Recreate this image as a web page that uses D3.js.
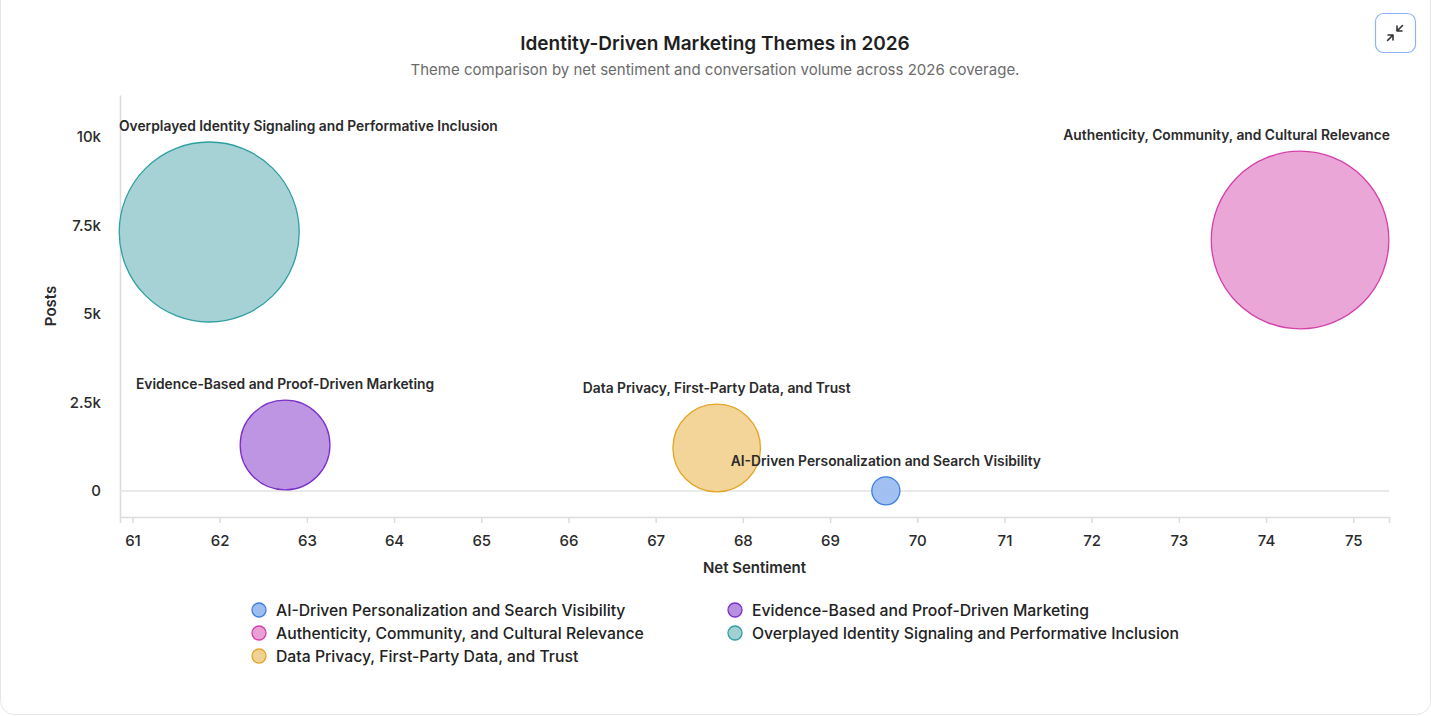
<!DOCTYPE html>
<html>
<head>
<meta charset="utf-8">
<style>
    html, body { margin: 0; padding: 0; background: #fff; }
    svg { display: block; font-family: Inter, "Noto Sans", sans-serif; }
</style>
</head>
<body>
<script src="https://cdnjs.cloudflare.com/ajax/libs/d3/7.8.5/d3.min.js"></script>
<script>
    // chart data
    var themes = [
        "AI-Driven Personalization and Search Visibility",
        "Authenticity, Community, and Cultural Relevance",
        "Data Privacy, First-Party Data, and Trust",
        "Evidence-Based and Proof-Driven Marketing",
        "Overplayed Identity Signaling and Performative Inclusion"
    ];
    var sentiment = [69.64, 74.39, 67.70, 62.75, 61.88];
    var posts = [5, 7090, 1215, 1300, 7316];
    var strokes = ["#3d7fe0", "#d43fa9", "#e3a526", "#7a30c8", "#2f9fa2"];
    var fills = ["#9dbdf0", "#e9a1d5", "#f2d294", "#b98fe0", "#a1d0d3"];
    var yTicks = [0, 2500, 5000, 7500, 10000];
    var yTickLabels = ["0", "2.5k", "5k", "7.5k", "10k"];
    var xTicks = [61, 62, 63, 64, 65, 66, 67, 68, 69, 70, 71, 72, 73, 74, 75];

    var width = 1431, height = 716;
    var plotLeft = 120, plotRight = 1389, plotTop = 95, plotBottom = 517;

    var data = themes.map(function (t, i) {
        return { name: t, x: sentiment[i], y: posts[i], stroke: strokes[i], fill: fills[i] };
    });

    var svg = d3.select("body").append("svg")
        .attr("width", width)
        .attr("height", height);

    // card
    svg.append("rect")
        .attr("x", 0.5).attr("y", -14)
        .attr("width", width - 1).attr("height", height - 1.5 + 14)
        .attr("rx", 14)
        .attr("fill", "#fff")
        .attr("stroke", "#e6e6e6");

    // collapse button
    var btn = svg.append("g").attr("transform", "translate(1375,13)");
    btn.append("rect")
        .attr("x", 0.5).attr("y", 0.5).attr("width", 40).attr("height", 39).attr("rx", 8)
        .attr("fill", "#fff").attr("stroke", "#8cb4f5").attr("stroke-width", 1.2);
    btn.append("path")
        .attr("d", "M27.5,12.5 L22,18 M22,13 L22,18 L27,18 M12.5,27.5 L18,22 M13,22 L18,22 L18,27")
        .attr("fill", "none").attr("stroke", "#333").attr("stroke-width", 1.6)
        .attr("stroke-linecap", "round").attr("stroke-linejoin", "round");

    // title
    svg.append("text")
        .attr("x", 715).attr("y", 50)
        .attr("text-anchor", "middle")
        .attr("font-size", 19).attr("font-weight", 600).attr("fill", "#1f1f1f")
        .text("Identity-Driven Marketing Themes in 2026");
    svg.append("text")
        .attr("x", 715).attr("y", 75)
        .attr("text-anchor", "middle")
        .attr("font-size", 15).attr("fill", "#6b6b6b")
        .text("Theme comparison by net sentiment and conversation volume across 2026 coverage.");

    var x = d3.scaleLinear().domain([60.857, 75.41]).range([plotLeft, plotRight]);
    var y = d3.scaleLinear().domain([-734, 11186]).range([plotBottom, plotTop]);
    var r = d3.scaleSqrt().domain([0, d3.max(posts)]).range([12, 90]);

    // axes
    var xAxis = svg.append("g")
        .attr("transform", "translate(0," + plotBottom + ")")
        .call(d3.axisBottom(x).tickValues(xTicks).tickSize(6).tickPadding(12).tickFormat(d3.format("d")));
    xAxis.select(".domain").attr("stroke", "#dcdcdc").attr("stroke-width", 1.5);
    xAxis.selectAll(".tick line").attr("stroke", "#dcdcdc").attr("stroke-width", 1.5);
    xAxis.selectAll(".tick text").attr("font-size", 15).attr("font-weight", 500).attr("fill", "#2a2a2a")
        .attr("font-family", "Inter, sans-serif");

    var yAxis = svg.append("g")
        .attr("transform", "translate(" + plotLeft + ",0)")
        .call(d3.axisLeft(y).tickValues(yTicks).tickSize(0).tickPadding(19)
            .tickFormat(function (d, i) { return yTickLabels[i]; }));
    yAxis.select(".domain").attr("stroke", "#dcdcdc").attr("stroke-width", 1.5);
    yAxis.selectAll(".tick text").attr("font-size", 15).attr("font-weight", 500).attr("fill", "#2a2a2a")
        .attr("font-family", "Inter, sans-serif");

    // zero line
    svg.append("line")
        .attr("x1", plotLeft).attr("x2", plotRight)
        .attr("y1", y(0)).attr("y2", y(0))
        .attr("stroke", "#e3e3e3").attr("stroke-width", 1.5);

    // axis titles
    svg.append("text")
        .attr("x", (plotLeft + plotRight) / 2).attr("y", 573)
        .attr("text-anchor", "middle")
        .attr("font-size", 15).attr("font-weight", 600).attr("fill", "#2a2a2a")
        .text("Net Sentiment");
    svg.append("text")
        .attr("transform", "translate(56," + (plotTop + plotBottom) / 2 + ") rotate(-90)")
        .attr("text-anchor", "middle")
        .attr("font-size", 15).attr("font-weight", 600).attr("fill", "#2a2a2a")
        .text("Posts");

    // bubbles, biggest at the back
    var sorted = data.slice().sort(function (a, b) { return b.y - a.y; });
    svg.append("g").selectAll("circle")
        .data(sorted)
        .enter().append("circle")
        .attr("cx", function (d) { return x(d.x); })
        .attr("cy", function (d) { return y(d.y); })
        .attr("r", function (d) { return r(d.y); })
        .attr("fill", function (d) { return d.fill; })
        .attr("fill-opacity", 0.95)
        .attr("stroke", function (d) { return d.stroke; })
        .attr("stroke-width", 1.3);

    // bubble labels, kept inside the plot
    var labels = svg.append("g").selectAll("text")
        .data(sorted)
        .enter().append("text")
        .attr("y", function (d) { return y(d.y) - r(d.y) - 11; })
        .attr("font-size", 13.8).attr("font-weight", 600).attr("fill", "#2a2a2a")
        .text(function (d) { return d.name; });
    labels.each(function (d) {
        var w = this.getComputedTextLength();
        var lx = x(d.x) - w / 2;
        lx = Math.max(plotLeft - 1, Math.min(lx, plotRight + 1 - w));
        d3.select(this).attr("x", lx);
    });

    // legend, column-major with three rows
    var legend = svg.append("g").selectAll("g")
        .data(data)
        .enter().append("g")
        .attr("transform", function (d, i) {
            return "translate(" + (i < 3 ? 259 : 735) + "," + (610 + (i % 3) * 23) + ")";
        });
    legend.append("circle")
        .attr("r", 7)
        .attr("fill", function (d) { return d.fill; })
        .attr("stroke", function (d) { return d.stroke; })
        .attr("stroke-width", 1.3);
    legend.append("text")
        .attr("x", 17).attr("dy", "0.35em")
        .attr("font-size", 15.75).attr("font-weight", 500).attr("fill", "#222")
        .text(function (d) { return d.name; });
</script>
</body>
</html>
